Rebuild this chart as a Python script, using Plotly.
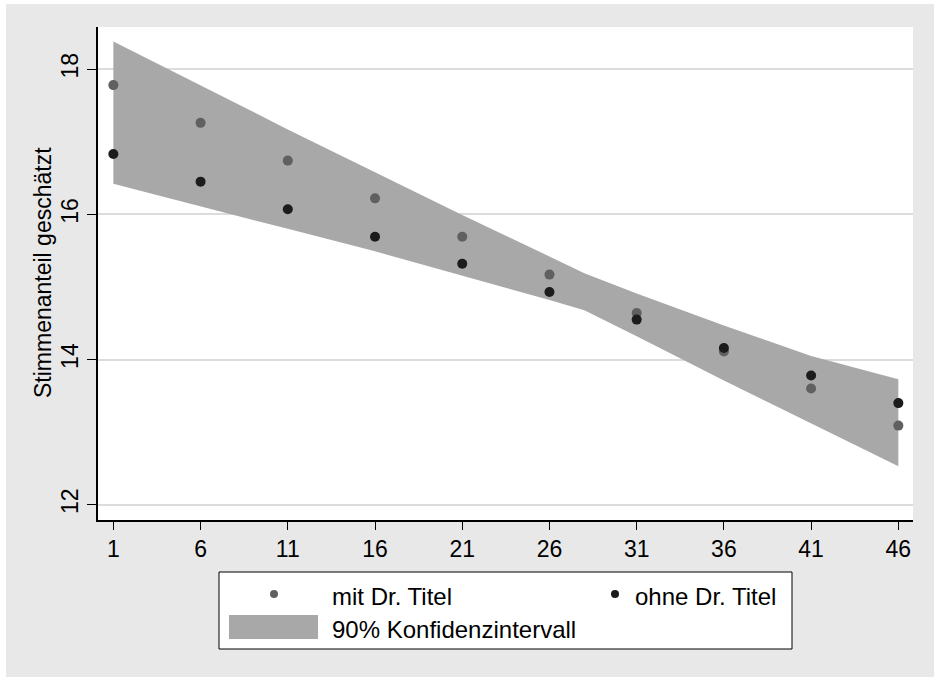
import plotly.graph_objects as go

# ---- data ----
x_vals = [1, 6, 11, 16, 21, 26, 31, 36, 41, 46]
mit_titel = [17.78, 17.26, 16.74, 16.22, 15.69, 15.17, 14.64, 14.11, 13.60, 13.09]
ohne_titel = [16.83, 16.45, 16.07, 15.69, 15.32, 14.93, 14.55, 14.16, 13.78, 13.40]

ci_x = [1, 6, 11, 16, 21, 26, 28, 31, 36, 41, 46]
ci_upper = [18.38, 17.77, 17.17, 16.58, 15.99, 15.42, 15.19, 14.91, 14.47, 14.05, 13.73]
ci_lower = [16.42, 16.11, 15.80, 15.49, 15.15, 14.82, 14.68, 14.32, 13.71, 13.12, 12.53]

y_ticks = [12, 14, 16, 18]
x_ticks = x_vals

y_title = "Stimmenanteil geschätzt"
legend_labels = ["mit Dr. Titel", "ohne Dr. Titel", "90% Konfidenzintervall"]

# ---- styling ----
W, H = 934, 677
ML, MR, MT, MB = 98, 21, 27, 157
PW, PH = W - ML - MR, H - MT - MB
FONT = "Liberation Sans, Arial, Helvetica, sans-serif"
BAND = "#A8A8A8"
C_MIT = "#606060"
C_OHNE = "#1C1C1C"
BG = "#E8E8E8"


def px(xp):
    return (xp - ML) / PW


def py(yp):
    return (H - MB - yp) / PH


fig = go.Figure()

fig.add_trace(go.Scatter(
    x=ci_x + ci_x[::-1], y=ci_upper + ci_lower[::-1],
    fill="toself", fillcolor=BAND, line=dict(width=0, color=BAND),
    mode="lines", hoverinfo="skip", name=legend_labels[2], showlegend=False))

fig.add_trace(go.Scatter(
    x=x_vals, y=mit_titel, mode="markers", name=legend_labels[0],
    marker=dict(color=C_MIT, size=10), showlegend=False))

fig.add_trace(go.Scatter(
    x=x_vals, y=ohne_titel, mode="markers", name=legend_labels[1],
    marker=dict(color=C_OHNE, size=10), showlegend=False))

shapes = [
    # white margin strips (top, left) outside the grey frame
    dict(type="rect", xref="paper", yref="paper", x0=px(0), x1=px(W), y0=py(0), y1=py(4),
         fillcolor="white", line=dict(width=0), layer="above"),
    dict(type="rect", xref="paper", yref="paper", x0=px(0), x1=px(6), y0=py(0), y1=py(H),
         fillcolor="white", line=dict(width=0), layer="above"),
    # legend box
    dict(type="rect", xref="paper", yref="paper", x0=px(219), x1=px(792), y0=py(649), y1=py(572),
         fillcolor="white", line=dict(color="black", width=1), layer="above"),
    # legend symbols
    dict(type="circle", xref="paper", yref="paper", x0=px(270), x1=px(278), y0=py(598), y1=py(590),
         fillcolor=C_MIT, line=dict(width=0), layer="above"),
    dict(type="circle", xref="paper", yref="paper", x0=px(611), x1=px(619), y0=py(598), y1=py(590),
         fillcolor=C_OHNE, line=dict(width=0), layer="above"),
    dict(type="rect", xref="paper", yref="paper", x0=px(229), x1=px(318), y0=py(639), y1=py(615),
         fillcolor=BAND, line=dict(width=0), layer="above"),
]

annotations = [
    dict(text=y_title, xref="paper", yref="paper", x=px(43), y=py(273), textangle=-90,
         showarrow=False, xanchor="center", yanchor="middle",
         font=dict(family=FONT, size=23, color="black")),
    dict(text=legend_labels[0], xref="paper", yref="paper", x=px(330), y=py(596),
         showarrow=False, xanchor="left", yanchor="middle",
         font=dict(family=FONT, size=24, color="black")),
    dict(text=legend_labels[1], xref="paper", yref="paper", x=px(633), y=py(596),
         showarrow=False, xanchor="left", yanchor="middle",
         font=dict(family=FONT, size=24, color="black")),
    dict(text=legend_labels[2], xref="paper", yref="paper", x=px(330), y=py(629),
         showarrow=False, xanchor="left", yanchor="middle",
         font=dict(family=FONT, size=24, color="black")),
]

fig.update_layout(
    width=W, height=H,
    margin=dict(l=ML, r=MR, t=MT, b=MB, autoexpand=False),
    paper_bgcolor=BG, plot_bgcolor="white",
    font=dict(family=FONT, size=23, color="black"),
    showlegend=False,
    shapes=shapes, annotations=annotations,
    xaxis=dict(range=[0.12, 46.84], tickvals=x_ticks, ticktext=[str(v) for v in x_ticks],
               showgrid=False, zeroline=False, showline=True, linecolor="black", linewidth=1.5,
               ticks="outside", ticklen=8, tickwidth=1.2, tickcolor="black",
               tickfont=dict(family=FONT, size=23, color="black"), automargin=False),
    yaxis=dict(range=[11.79, 18.58], tickvals=y_ticks, ticktext=[str(v) for v in y_ticks],
               showgrid=True, gridcolor="#DCDCDC", gridwidth=1.5, zeroline=False,
               showline=True, linecolor="black", linewidth=1.5,
               ticks="outside", ticklen=9, tickwidth=1.2, tickcolor="black", tickangle=-90,
               tickfont=dict(family=FONT, size=23, color="black"), automargin=False),
)

fig.write_html("out.html",
               config={"displayModeBar": False},
               post_script=("document.body.style.margin='0';"
                            "document.body.style.overflow='hidden';"
                            "document.body.style.background='" + BG + "';"
                            "document.documentElement.style.background='" + BG + "';"))
